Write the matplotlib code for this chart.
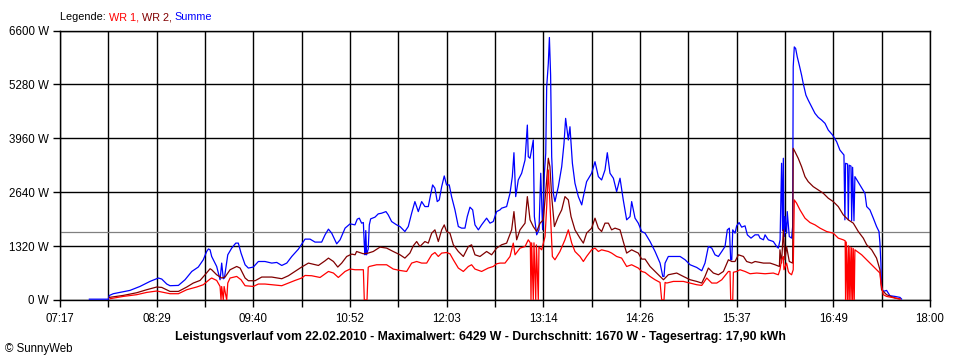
import matplotlib
matplotlib.use("Agg")
import matplotlib.pyplot as plt
import numpy as np

# ---------------- data (time = minutes after midnight, power in W) ----------------
sum_time = [458.7, 472.7, 473.4, 476.4, 483.8, 488.7, 496.1, 503.5, 509.7, 512.2, 515.9, 518.3, 524.5, 529.4,
            534.4, 539.2, 542.9, 545.4, 546.7, 547.9, 549.1, 552.8, 555.3, 556.5, 557.7, 558.5, 561.0, 563.9,
            566.9, 568.8, 570.8, 573.8, 576.2, 579.9, 583.6, 588.5, 593.5, 597.2, 600.9, 604.6, 608.3, 613.2,
            618.1, 621.8, 625.5, 630.4, 632.9, 635.4, 637.8, 641.5, 644.0, 647.7, 651.4, 655.0, 656.7, 658.2,
            659.9, 661.2, 661.9, 662.4, 663.0, 663.6, 664.8, 665.6, 666.6, 669.8, 672.2, 674.7, 677.9, 679.6,
            682.1, 685.8, 688.3, 691.9, 694.4, 696.9, 699.3, 701.8, 704.3, 706.7, 709.2, 710.4, 712.4, 714.1,
            715.8, 717.3, 719.1, 721.0, 722.7, 724.7, 726.4, 728.9, 731.4, 733.8, 736.3, 738.0, 740.0, 742.0,
            743.7, 746.2, 748.6, 752.3, 754.8, 757.2, 759.7, 762.2, 763.4, 767.1, 769.6, 771.3, 772.5, 773.8,
            775.7, 778.2, 780.7, 782.4, 783.1, 784.4, 786.8, 787.6, 789.3, 791.0, 792.3, 793.7, 795.0, 796.0,
            796.7, 797.9, 798.7, 799.6, 800.4, 801.6, 802.8, 805.3, 807.8, 809.5, 810.7, 812.7, 813.9, 815.7,
            817.6, 820.1, 822.6, 823.8, 826.2, 829.9, 832.4, 834.9, 837.3, 839.8, 841.5, 843.5, 846.0, 848.4,
            850.9, 853.3, 855.8, 858.3, 859.5, 862.0, 864.4, 866.9, 869.4, 873.1, 876.8, 880.5, 882.5, 883.4,
            884.2, 886.6, 895.3, 899.0, 902.7, 907.6, 911.3, 913.7, 916.2, 918.7, 921.1, 923.6, 926.1, 928.5,
            930.2, 931.7, 932.7, 933.5, 934.2, 935.9, 937.1, 938.9, 940.8, 943.3, 945.0, 947.7, 950.7, 953.2,
            954.4, 956.9, 958.1, 960.5, 964.2, 966.7, 967.9, 969.2, 970.3, 971.0, 971.6, 972.1, 972.8, 974.0,
            974.5, 976.0, 977.7, 978.5, 978.9, 979.7, 980.7, 981.9, 983.4, 985.1, 986.3, 988.3, 990.0, 992.5,
            995.0, 997.4, 999.9, 1002.4, 1004.8, 1008.0, 1011.0, 1013.4, 1016.4, 1017.1, 1017.6, 1019.1, 1019.6,
            1020.3, 1021.6, 1022.1, 1022.8, 1023.8, 1024.5, 1028.2, 1031.9, 1033.2, 1035.6, 1038.1, 1040.5,
            1042.3, 1043.0, 1043.7, 1044.2, 1045.5, 1047.9, 1050.4, 1054.1, 1057.8, 1059.0]
sum_watt = [20, 20, 110, 154, 203, 235, 332, 455, 538, 513, 391, 350, 357, 496,
            699, 807, 985, 1188, 1250, 1230, 1066, 821, 496, 904, 520, 538, 1107, 1271,
            1393, 1393, 1149, 863, 782, 807, 943, 943, 904, 920, 846, 904, 1066, 1246,
            1491, 1491, 1418, 1418, 1596, 1735, 1637, 1376, 1474, 1760, 1865, 1840, 1980, 2004,
            1882, 1897, 1352, 1107, 1700, 1107, 1250, 1840, 1987, 2029, 2109, 2126, 2165, 2085,
            1921, 1840, 1799, 1677, 1799, 2126, 2410, 2165, 2410, 2288, 2288, 2493, 2818, 2737,
            2410, 2451, 2776, 3038, 2818, 2818, 2532, 2207, 1799, 1760, 1760, 2043, 2273, 2207,
            1840, 1718, 1840, 2004, 1882, 1921, 2165, 2207, 2249, 2288, 2615, 3021, 3607, 2532,
            2940, 3104, 3429, 4284, 3510, 3471, 3918, 2043, 1596, 1718, 3104, 1718, 3104, 3593,
            5220, 5792, 6429, 5506, 3510, 2615, 2410, 2776, 3265, 3837, 4448, 3918, 4243, 3348,
            2859, 2532, 2329, 2532, 2898, 3104, 3387, 3021, 2940, 3185, 3607, 3104, 2982, 2654,
            2982, 2451, 1963, 2043, 2410, 2004, 1882, 1677, 1637, 1432, 1188, 904, 577, 577,
            904, 1066, 1066, 985, 863, 797, 716, 904, 1310, 1271, 1107, 1066, 1188, 1310,
            1718, 1760, 985, 985, 1718, 1637, 1816, 1897, 1784, 1816, 1596, 1515, 1596, 1596,
            1515, 1474, 1596, 1474, 1432, 1310, 1271, 1474, 3348, 1700, 3471, 1554, 2043, 1637,
            2165, 1554, 1515, 1799, 5709, 6198, 6160, 5954, 5750, 5506, 5303, 5017, 4895, 4732,
            4570, 4473, 4407, 4326, 4162, 4040, 3876, 3673, 3551, 1963, 3348, 3330, 1963,
            3300, 3280, 1940, 3250, 1940, 3021, 2818, 2615, 2288, 2207, 2004, 1799,
            1677, 1393, 904, 293, 210, 235, 105, 88, 64, 24]

wr2_time = [473.4, 483.8, 493.7, 501.1, 508.5, 512.2, 518.3, 524.5, 530.7, 535.5, 540.5, 544.2, 547.9, 549.1,
            552.8, 556.5, 559.0, 562.7, 567.6, 570.1, 573.8, 576.2, 581.2, 586.1, 593.5, 600.9, 605.8, 610.7,
            615.6, 620.6, 628.0, 632.9, 635.4, 639.1, 642.3, 645.2, 648.9, 652.6, 655.1, 656.2, 661.2, 664.8,
            668.5, 673.5, 678.4, 683.3, 688.3, 691.9, 695.6, 698.1, 700.6, 703.0, 706.7, 709.2, 711.7, 714.1,
            716.6, 719.1, 721.0, 722.7, 725.2, 727.7, 731.4, 735.1, 738.8, 741.2, 743.7, 747.4, 752.3, 756.0,
            759.7, 763.4, 767.1, 770.8, 772.5, 774.5, 777.0, 780.7, 782.4, 784.4, 786.8, 789.3, 791.8, 794.2,
            796.7, 797.9, 799.1, 800.4, 802.4, 805.3, 807.8, 810.2, 812.7, 814.7, 817.6, 821.3, 823.8, 826.2,
            829.9, 832.4, 834.9, 837.3, 839.8, 842.3, 844.7, 847.2, 850.9, 853.3, 855.8, 859.5, 862.0, 864.4,
            866.9, 869.4, 873.1, 876.8, 880.5, 883.0, 886.6, 892.8, 897.7, 902.7, 907.6, 911.3, 913.7, 916.2,
            919.9, 923.6, 927.3, 931.0, 933.5, 935.9, 938.4, 942.1, 944.5, 948.2, 950.7, 956.9, 961.8, 965.5,
            968.7, 969.1, 970.3, 971.6, 972.8, 974.0, 976.0, 978.5, 978.9, 980.2, 982.6, 985.1, 987.6, 990.0,
            993.7, 997.4, 1001.1, 1004.8, 1008.5, 1012.2, 1015.9, 1019.6, 1023.3, 1027.0, 1030.7, 1033.2,
            1036.9, 1040.5, 1043.0, 1044.2, 1047.9, 1054.1, 1057.8]
wr2_watt = [64, 112, 178, 252, 318, 308, 210, 210, 318, 415, 479, 618, 765, 741,
            618, 538, 562, 741, 821, 782, 538, 472, 472, 562, 562, 521, 594, 699,
            807, 904, 846, 960, 1026, 943, 807, 904, 1066, 1124, 1107, 1188, 1132, 1149,
            1188, 1295, 1271, 1188, 1107, 1026, 1149, 1327, 1432, 1310, 1432, 1393, 1637, 1718,
            1432, 1718, 1840, 1677, 1637, 1352, 1188, 1066, 1310, 1352, 1107, 1066, 1188, 1107,
            1271, 1352, 1393, 1718, 2165, 1474, 1718, 1882, 2532, 1963, 1799, 1677, 1882, 1963,
            2940, 3471, 3265, 2532, 1799, 2043, 2207, 2532, 2451, 2043, 1718, 1515, 1393, 1637,
            1760, 2004, 1760, 1677, 1882, 1882, 1718, 1760, 1718, 1432, 1149, 1229, 1188, 1149,
            1002, 1002, 821, 699, 577, 496, 618, 660, 577, 496, 455, 415, 577, 782,
            660, 618, 699, 985, 943, 943, 1107, 1066, 943, 904, 943, 904, 904, 863,
            821, 1229, 904, 1718, 985, 1310, 943, 904, 3715, 3632, 3471, 3265, 3021, 2898,
            2776, 2696, 2615, 2493, 2410, 2288, 2085, 1963, 1882, 1677, 1515, 1352,
            1229, 1026, 741, 252, 130, 49, 24]

wr1_time = [474.0, 483.8, 493.7, 501.1, 508.5, 512.2, 518.3, 524.5, 530.7, 538.0, 542.9, 547.9, 549.1, 552.8,
            555.3, 556.0, 556.5, 557.7, 558.3, 560.2, 561.0, 562.7, 567.6, 570.8, 573.8, 579.9, 583.6, 588.5,
            593.5, 600.9, 605.8, 610.7, 615.6, 618.1, 623.0, 629.2, 635.4, 639.1, 642.7, 647.7, 651.4, 655.1,
            661.2, 661.9, 663.9, 664.8, 665.6, 671.0, 678.4, 683.3, 688.3, 693.2, 696.9, 700.6, 704.3, 708.0,
            711.7, 714.1, 716.6, 719.1, 722.7, 725.2, 727.7, 731.4, 735.1, 738.8, 741.2, 743.7, 748.6, 753.5,
            757.2, 759.7, 762.2, 765.9, 769.6, 772.0, 773.3, 777.0, 780.7, 783.1, 784.6, 785.1, 785.6, 786.8,
            787.3, 788.6, 789.1, 790.5, 791.0, 793.0, 795.5, 796.7, 797.9, 799.1, 800.9, 802.8, 806.5, 810.2,
            812.7, 815.2, 817.6, 821.3, 823.8, 826.2, 829.9, 832.4, 834.9, 837.3, 842.3, 844.7, 848.4, 852.1,
            855.8, 859.5, 862.0, 864.4, 866.9, 869.4, 873.1, 876.8, 880.5, 881.7, 883.4, 884.2, 885.4, 890.3,
            897.7, 902.7, 907.6, 911.3, 915.0, 918.7, 922.4, 926.1, 931.0, 932.2, 932.7, 934.2, 934.7, 937.1,
            939.6, 943.3, 947.0, 951.9, 958.1, 964.2, 967.9, 969.1, 970.3, 971.6, 972.1, 974.0, 975.3, 976.0,
            977.7, 978.9, 979.7, 981.4, 983.9, 987.6, 991.3, 995.0, 998.7, 1003.6, 1008.5, 1012.2, 1015.9,
            1017.3, 1017.6, 1018.1, 1019.1, 1019.6, 1020.3, 1020.8, 1021.6, 1022.1, 1022.8, 1023.3, 1024.0,
            1024.5, 1029.5, 1033.2, 1036.9, 1040.5, 1043.0, 1043.7, 1045.5, 1047.9, 1054.1, 1057.8]
wr1_watt = [32, 88, 130, 186, 220, 196, 154, 154, 252, 318, 374, 513, 538, 479,
            332, 0, 330, 0, 330, 0, 415, 538, 577, 496, 350, 332, 391, 391,
            374, 350, 415, 479, 538, 601, 594, 552, 699, 660, 552, 699, 758, 741,
            741, 0, 0, 800, 821, 863, 863, 758, 723, 699, 904, 943, 904, 904,
            1107, 1163, 1066, 1149, 1163, 1132, 985, 782, 699, 821, 863, 758, 699, 782,
            821, 887, 904, 904, 1066, 1393, 1107, 1271, 1310, 1474, 1400, 0, 1400, 0,
            1400, 0, 1350, 0, 1300, 1229, 1554, 2288, 3185, 2371, 1066, 985, 1188, 1474,
            1718, 1393, 1188, 1066, 943, 1066, 1229, 1271, 1188, 1229, 1188, 1149, 1066, 1026,
            821, 863, 821, 782, 699, 675, 577, 496, 430, 0, 0, 430, 415, 455,
            455, 415, 374, 357, 538, 415, 415, 496, 699, 699, 0, 0, 680, 699,
            741, 699, 643, 660, 643, 660, 618, 741, 985, 1066, 741, 904, 699, 660,
            618, 741, 2451, 2371, 2207, 2004, 1897, 1840, 1760, 1677, 1637, 1515, 1474,
            1450, 0, 1420, 0, 1330, 0, 1300, 0, 1280, 0, 1260, 0,
            1229, 1107, 985, 863, 741, 660, 415, 130, 88, 49, 24]

average_watt = 1670
x_tick_labels = ["07:17", "08:29", "09:40", "10:52", "12:03", "13:14", "14:26", "15:37", "16:49", "18:00"]
y_ticks = [0, 1320, 2640, 3960, 5280, 6600]
t_start, t_end = 437, 1080
title = ("Leistungsverlauf vom 22.02.2010 - Maximalwert: 6429 W - Durchschnitt: 1670 W - "
         "Tagesertrag: 17,90 kWh")

# ---------------- figure ----------------
FONT = "Liberation Sans"
fig = plt.figure(figsize=(9.6, 3.6), dpi=100)
fig.patch.set_facecolor("white")
ax = fig.add_axes([60 / 960, 60 / 360, 870 / 960, 269.5 / 360])

ax.plot(sum_time, sum_watt, color="#0000FF", lw=0.9, zorder=3)
ax.plot(wr2_time, wr2_watt, color="#800000", lw=0.9, zorder=4)
ax.plot(wr1_time, wr1_watt, color="#FF0000", lw=0.9, zorder=5)
ax.axhline(average_watt, color="#808080", lw=0.9, zorder=2)

ax.set_xlim(t_start, t_end)
ax.set_ylim(0, 6600)
major = np.linspace(t_start, t_end, len(x_tick_labels))
minor = (major[:-1] + major[1:]) / 2
ax.set_xticks(major)
ax.set_xticklabels(x_tick_labels, fontfamily=FONT, fontsize=8.3)
ax.set_xticks(minor, minor=True)
ax.set_yticks(y_ticks)
ax.set_yticklabels([f"{v} W" for v in y_ticks], fontfamily=FONT, fontsize=8.3)
ax.tick_params(axis="both", which="both", direction="out", length=5, width=1, color="black")
ax.tick_params(axis="x", which="both", pad=4)
ax.tick_params(axis="y", pad=3)
ax.grid(True, which="both", axis="x", color="black", lw=1.0, zorder=1)
ax.grid(True, which="major", axis="y", color="black", lw=1.0, zorder=1)
ax.set_axisbelow(True)
for s in ax.spines.values():
    s.set_color("black")
    s.set_linewidth(1.0)

# legend text, coloured pieces
fig.canvas.draw()
renderer = fig.canvas.get_renderer()
parts = [("Legende: ", "black"), ("WR 1, ", "#FF0000"), ("WR 2, ", "#800000"), ("Summe", "#0000FF")]
x = 60 / 960
for txt, col in parts:
    t = fig.text(x, 1 - 17 / 360, txt, color=col, fontfamily=FONT, fontsize=7.8, va="center", ha="left")
    bb = t.get_window_extent(renderer=renderer)
    x += bb.width / fig.bbox.width

fig.text(480 / 960, 1 - 337 / 360, title, fontfamily=FONT, fontsize=8.8, fontweight="bold",
         ha="center", va="center")
fig.text(5 / 960, 1 - 349 / 360, "© SunnyWeb", fontfamily=FONT, fontsize=8.3, ha="left", va="center")

fig.savefig("out.png", dpi=100, facecolor="white")
